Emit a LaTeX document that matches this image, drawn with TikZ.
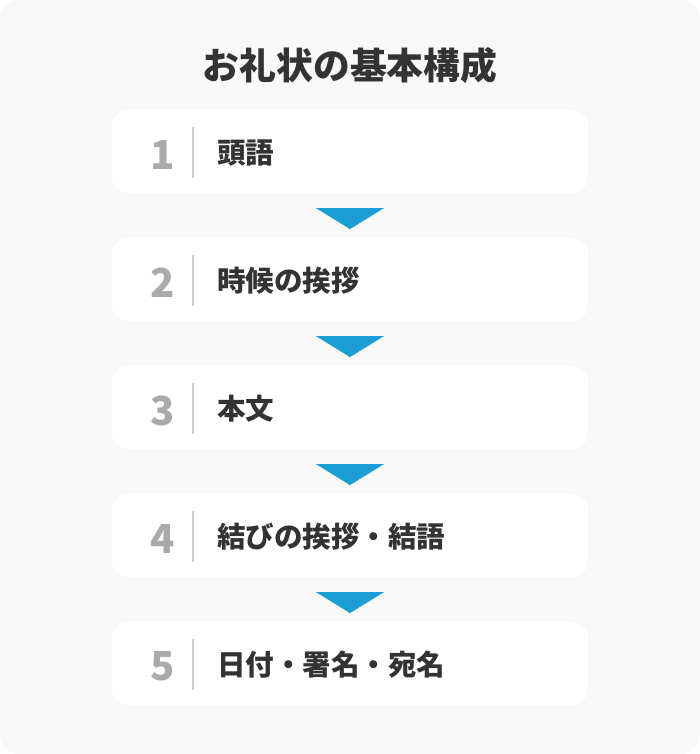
\documentclass[tikz,border=0pt]{standalone}
\usepackage{fontspec}
\setmainfont{Noto Sans CJK JP}
\definecolor{bggray}{RGB}{248, 248, 248}
\definecolor{textdark}{RGB}{51, 51, 51}
\definecolor{numgray}{RGB}{170, 170, 170}
\definecolor{rulegray}{RGB}{204, 204, 204}
\definecolor{flowblue}{RGB}{26, 159, 212}
\usetikzlibrary{positioning, calc}

\tikzset{
  stepbox/.style={fill=white, rounded corners=12pt, minimum width=357pt, minimum height=62pt, inner sep=0pt},
  stepnum/.style={font=\fontsize{30}{30}\selectfont\bfseries, text=numgray},
  steptext/.style={font=\fontsize{21.4}{21.4}\selectfont\bfseries, text=textdark, anchor=west, inner sep=0pt},
  steprule/.style={draw=rulegray, line width=1.4pt},
  flowtri/.style={fill=flowblue}
}

\begin{document}
\begin{tikzpicture}[x=0.75pt, y=-0.75pt]
  \useasboundingbox (0, 0) rectangle (700, 754);
  \fill[bggray, rounded corners=14pt] (0, 0) rectangle (700, 754);

  % Title
  \node[font=\fontsize{27.6}{27.6}\selectfont\bfseries, text=textdark] (title) at (350, 65) {お礼状の基本構成};

  % Step 1
  \node[stepbox] (box1) at (350, 151.5) {};
  \node[stepnum] (num1) at ($(box1.west)+(51, 3)$) {1};
  \draw[steprule] ($(box1.west)+(81, -25)$) -- ($(box1.west)+(81, 26)$);
  \node[steptext] (txt1) at ($(box1.west)+(105, 1.5)$) {頭語};

  % Step 2
  \node[stepbox] (box2) at (350, 279.5) {};
  \node[stepnum] (num2) at ($(box2.west)+(51, 3)$) {2};
  \draw[steprule] ($(box2.west)+(81, -25)$) -- ($(box2.west)+(81, 26)$);
  \node[steptext] (txt2) at ($(box2.west)+(105, 1.5)$) {時候の挨拶};

  % Step 3
  \node[stepbox] (box3) at (350, 407.5) {};
  \node[stepnum] (num3) at ($(box3.west)+(51, 3)$) {3};
  \draw[steprule] ($(box3.west)+(81, -25)$) -- ($(box3.west)+(81, 26)$);
  \node[steptext] (txt3) at ($(box3.west)+(105, 1.5)$) {本文};

  % Step 4
  \node[stepbox] (box4) at (350, 535.5) {};
  \node[stepnum] (num4) at ($(box4.west)+(51, 3)$) {4};
  \draw[steprule] ($(box4.west)+(81, -25)$) -- ($(box4.west)+(81, 26)$);
  \node[steptext] (txt4) at ($(box4.west)+(105, 1.5)$) {結びの挨拶・結語};

  % Step 5
  \node[stepbox] (box5) at (350, 663.5) {};
  \node[stepnum] (num5) at ($(box5.west)+(51, 3)$) {5};
  \draw[steprule] ($(box5.west)+(81, -25)$) -- ($(box5.west)+(81, 26)$);
  \node[steptext] (txt5) at ($(box5.west)+(105, 1.5)$) {日付・署名・宛名};

  % Triangles between steps
  \fill[flowtri] ($(box1.south)+(-34, 15)$) -- ($(box1.south)+(34, 15)$) -- ($(box1.south)+(0, 36)$) -- cycle;
  \fill[flowtri] ($(box2.south)+(-34, 15)$) -- ($(box2.south)+(34, 15)$) -- ($(box2.south)+(0, 36)$) -- cycle;
  \fill[flowtri] ($(box3.south)+(-34, 15)$) -- ($(box3.south)+(34, 15)$) -- ($(box3.south)+(0, 36)$) -- cycle;
  \fill[flowtri] ($(box4.south)+(-34, 15)$) -- ($(box4.south)+(34, 15)$) -- ($(box4.south)+(0, 36)$) -- cycle;
\end{tikzpicture}
\end{document}
